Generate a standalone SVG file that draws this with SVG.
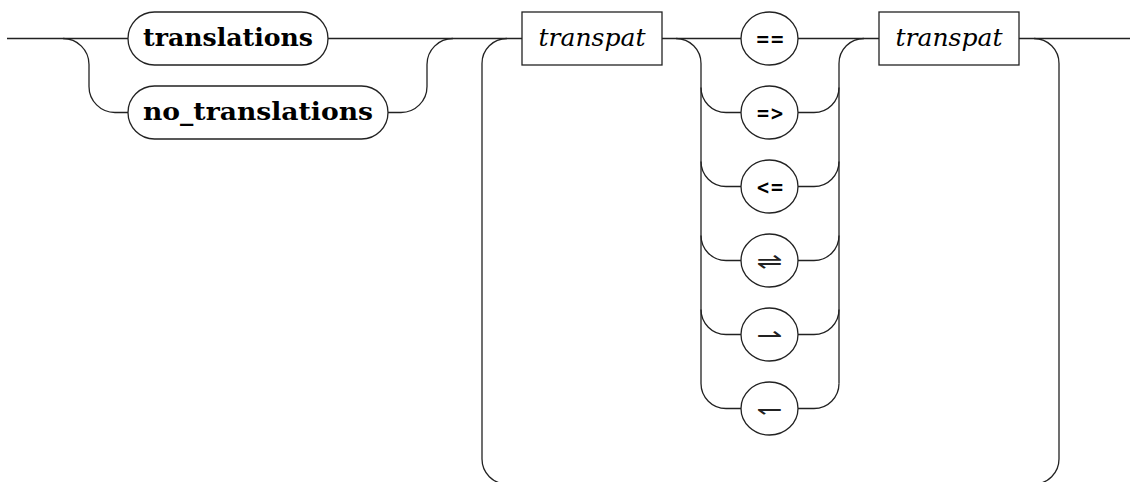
<svg xmlns="http://www.w3.org/2000/svg" width="1130" height="482" viewBox="0 0 1130 482">
<style>
.ln{fill:none;stroke:#222;stroke-width:1.3}
.nd{fill:#fff;stroke:#222;stroke-width:1.3}
.kw{font-family:"DejaVu Serif",serif;font-weight:bold;font-size:24px;text-anchor:middle;fill:#000}
.nt{font-family:"DejaVu Serif","Liberation Serif",serif;font-style:italic;font-size:25px;text-anchor:middle;fill:#000}
.op{font-family:"DejaVu Sans",sans-serif;font-weight:bold;font-size:20px;text-anchor:middle;fill:#000}
.hp{font-family:"DejaVu Sans",sans-serif;font-size:23px;text-anchor:middle;fill:#222}
</style>
<rect width="1130" height="482" fill="#fff"/>
<g id="connectors" class="ln">
<path d="M7 38.5H128M328 38.5H522M662 38.5H741M798 38.5H879M1019 38.5H1130"/>
<path d="M63 38.5A26 26 0 0 1 89 64.5V86.5A26 26 0 0 0 115 112.5H128"/>
<path d="M388 112.5H401A26 26 0 0 0 427 86.5V64.5A26 26 0 0 1 453 38.5"/>
<path d="M676 38.5A25 25 0 0 1 701 63.5V383.5A25 25 0 0 0 726 408.5H741"/>
<path d="M701 87.5A25 25 0 0 0 726 112.5H741M701 161.5A25 25 0 0 0 726 186.5H741M701 235.5A25 25 0 0 0 726 260.5H741M701 309.5A25 25 0 0 0 726 334.5H741"/>
<path d="M798 112.5H814A25 25 0 0 0 839 87.5M798 186.5H814A25 25 0 0 0 839 161.5M798 260.5H814A25 25 0 0 0 839 235.5M798 334.5H814A25 25 0 0 0 839 309.5M798 408.5H814A25 25 0 0 0 839 383.5"/>
<path d="M839 383.5V63.5A25 25 0 0 1 864 38.5"/>
<path d="M1034 38.5A25 25 0 0 1 1059 63.5V459A25 25 0 0 1 1034 484H507A25 25 0 0 1 482 459V63.5A25 25 0 0 1 507 38.5"/>
</g>
<g id="n-translations"><rect class="nd" x="128" y="12" width="200" height="53" rx="26.5"/><text class="kw" x="228" y="46" textLength="170" lengthAdjust="spacingAndGlyphs">translations</text></g>
<g id="n-no_translations"><rect class="nd" x="128" y="86" width="260" height="53" rx="26.5"/><text class="kw" x="258" y="120" textLength="230" lengthAdjust="spacingAndGlyphs">no_translations</text></g>
<g id="n-transpat1"><rect class="nd" x="522" y="12" width="140" height="53"/><text class="nt" x="592" y="46" textLength="107" lengthAdjust="spacingAndGlyphs">transpat</text></g>
<g id="n-eqeq"><ellipse class="nd" cx="769.5" cy="38.5" rx="28.5" ry="26.5"/><text class="op" x="770" y="45.5" textLength="29" lengthAdjust="spacingAndGlyphs">==</text></g>
<g id="n-eqgt"><ellipse class="nd" cx="769.5" cy="112.5" rx="28.5" ry="26.5"/><text class="op" x="770" y="119.5" textLength="28" lengthAdjust="spacingAndGlyphs">=&gt;</text></g>
<g id="n-lteq"><ellipse class="nd" cx="769.5" cy="186.5" rx="28.5" ry="26.5"/><text class="op" x="770" y="193.5" textLength="28" lengthAdjust="spacingAndGlyphs">&lt;=</text></g>
<g id="n-rlharp"><ellipse class="nd" cx="769.5" cy="260.5" rx="28.5" ry="26.5"/><text class="hp" x="769.5" y="268.5" textLength="26" lengthAdjust="spacingAndGlyphs">⇌</text></g>
<g id="n-rharp"><ellipse class="nd" cx="769.5" cy="334.5" rx="28.5" ry="26.5"/><text class="hp" x="769.5" y="342.5" textLength="26" lengthAdjust="spacingAndGlyphs">⇀</text></g>
<g id="n-lharp"><ellipse class="nd" cx="769.5" cy="408.5" rx="28.5" ry="26.5"/><text class="hp" x="769.5" y="416.5" textLength="26" lengthAdjust="spacingAndGlyphs">↽</text></g>
<g id="n-transpat2"><rect class="nd" x="879" y="12" width="140" height="53"/><text class="nt" x="949" y="46" textLength="107" lengthAdjust="spacingAndGlyphs">transpat</text></g>
</svg>
